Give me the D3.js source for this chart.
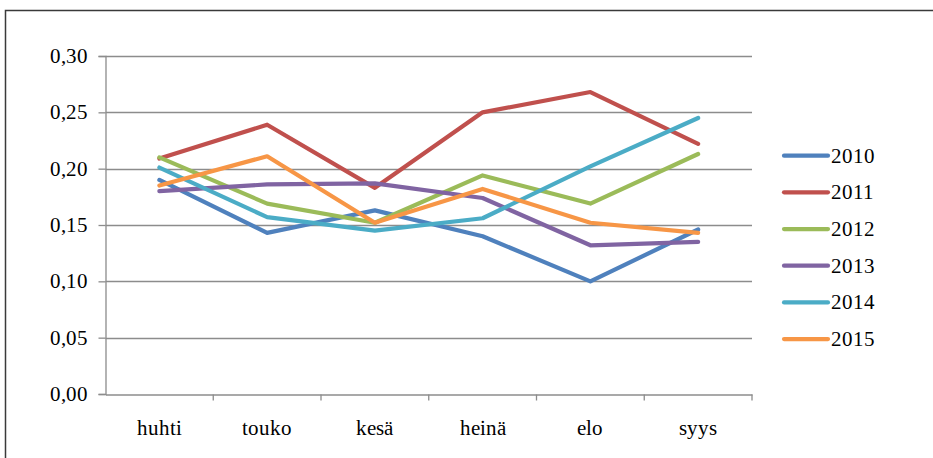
<!DOCTYPE html>
<html>
<head>
<meta charset="utf-8">
<script src="https://cdn.jsdelivr.net/npm/d3@7"></script>
<style>
  @font-face {
    font-family: "ChartSerif";
    src: local("Liberation Serif"), local("LiberationSerif"), local("LiberationSerif-Regular"),
         local("DejaVu Serif"), local("DejaVuSerif"), local("Times New Roman"), local("TimesNewRomanPSMT"),
         local("Nimbus Roman"), local("NimbusRoman-Regular"), local("FreeSerif"), local("Noto Serif"), local("NotoSerif-Regular");
  }
  html, body { margin: 0; padding: 0; background: #fff; }
  svg { display: block; }
</style>
</head>
<body>
<svg id="chart" width="933" height="458"></svg>
<script>
const categories = ["huhti", "touko", "kesä", "heinä", "elo", "syys"];
const seriesNames = ["2010", "2011", "2012", "2013", "2014", "2015"];
const s2010 = [0.190, 0.143, 0.163, 0.140, 0.100, 0.146];
const s2011 = [0.209, 0.239, 0.183, 0.250, 0.268, 0.222];
const s2012 = [0.210, 0.169, 0.152, 0.194, 0.169, 0.213];
const s2013 = [0.180, 0.186, 0.187, 0.174, 0.132, 0.135];
const s2014 = [0.201, 0.157, 0.145, 0.156, 0.202, 0.245];
const s2015 = [0.185, 0.211, 0.152, 0.182, 0.152, 0.143];
const seriesValues = [s2010, s2011, s2012, s2013, s2014, s2015];
const colors = ["#4F81BD", "#C0504D", "#9BBB59", "#8064A2", "#4BACC6", "#F79646"];
const yTicks = [0, 0.05, 0.10, 0.15, 0.20, 0.25, 0.30];

const FONT = "ChartSerif, 'Liberation Serif', 'Times New Roman', Times, 'DejaVu Serif', serif";

const svg = d3.select("#chart");
const W = 933, H = 458;

// outer frame
svg.append("rect")
  .attr("x", 5.5).attr("y", 10.5)
  .attr("width", W + 10).attr("height", H + 10)
  .attr("fill", "none").attr("stroke", "#3a3a3a").attr("stroke-width", 1.5);

const x = d3.scaleBand().domain(categories).range([105.5, 752]).padding(0);
const y = d3.scaleLinear().domain([0, 0.30]).range([394, 56]);

// gridlines
svg.append("g").selectAll("line")
  .data(yTicks.filter(d => d > 0))
  .join("line")
  .attr("x1", 105.5).attr("x2", 752)
  .attr("y1", d => Math.round(y(d)) + 0.5).attr("y2", d => Math.round(y(d)) + 0.5)
  .attr("stroke", "#8c8c8c").attr("stroke-width", 1.3);

// y axis
const fmt = d => d3.format(".2f")(d).replace(".", ",");
const yAxis = d3.axisLeft(y).tickValues(yTicks).tickFormat(fmt).tickSize(7).tickPadding(11);
const gy = svg.append("g").attr("transform", "translate(105.5,0)").call(yAxis)
  .attr("font-size", 20.5);
gy.select(".domain").attr("stroke", "#8c8c8c").attr("stroke-width", 1.3);
gy.selectAll(".tick line").attr("stroke", "#8c8c8c").attr("stroke-width", 1.3);
gy.selectAll(".tick text").attr("fill", "#000").style("font-family", FONT);

// x axis
const xAxis = d3.axisBottom(x).tickSize(0).tickPadding(0);
const gx = svg.append("g").attr("transform", "translate(0,394.5)").call(xAxis)
  .attr("font-size", 20.5);
gx.select(".domain").attr("stroke", "#8c8c8c").attr("stroke-width", 1.3);
gx.selectAll(".tick text").attr("y", 40.5).attr("dy", 0).attr("fill", "#000").style("font-family", FONT);
// boundary tick marks
const bounds = categories.map(c => x(c) + x.bandwidth());
gx.append("g").selectAll("line").data(bounds).join("line")
  .attr("x1", d => d).attr("x2", d => d)
  .attr("y1", 0).attr("y2", 6)
  .attr("stroke", "#8c8c8c").attr("stroke-width", 1.3);

// lines
const line = d3.line()
  .x((d, i) => x(categories[i]) + x.bandwidth() / 2)
  .y(d => y(d));

svg.append("g").selectAll("path")
  .data(seriesValues)
  .join("path")
  .attr("d", d => line(d))
  .attr("fill", "none")
  .attr("stroke", (d, i) => colors[i])
  .attr("stroke-width", 4.2)
  .attr("stroke-linejoin", "round")
  .attr("stroke-linecap", "round");

// legend
const lg = svg.append("g").attr("font-size", 20.5);
const items = lg.selectAll("g").data(seriesNames).join("g")
  .attr("transform", (d, i) => `translate(0,${155.7 + i * 36.67})`);
items.append("line")
  .attr("x1", 784).attr("x2", 828).attr("y1", 0).attr("y2", 0)
  .attr("stroke", (d, i) => colors[i]).attr("stroke-width", 4.2)
  .attr("stroke-linecap", "round");
items.append("text")
  .attr("x", 831).attr("y", 7)
  .attr("fill", "#000")
  .style("font-family", FONT)
  .text(d => d);
</script>
</body>
</html>
